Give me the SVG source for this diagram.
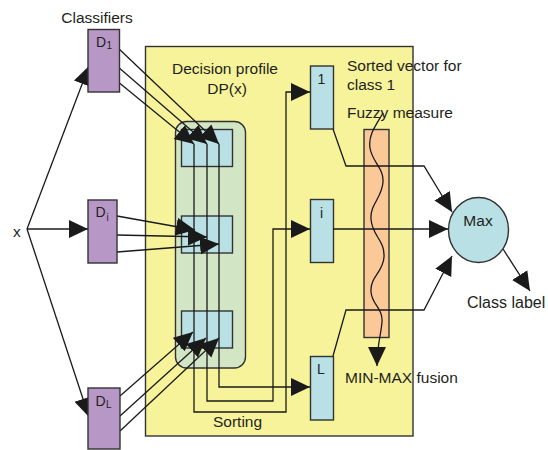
<svg xmlns="http://www.w3.org/2000/svg" width="548" height="450" viewBox="0 0 548 450">
<defs>
<marker id="ah" markerUnits="userSpaceOnUse" markerWidth="20" markerHeight="19" refX="19" refY="9" orient="auto" viewBox="0 0 20 19">
<path d="M0,0 L19,9 L0,18 z" fill="#1a1a1a"/>
</marker>
<style>
text{font-family:"Liberation Sans",Arial,sans-serif;fill:#231f20;font-size:15.5px}
.b{stroke:#333;stroke-width:1.4}
.ln{fill:none;stroke:#1a1a1a;stroke-width:1.3}
.ar{marker-end:url(#ah)}
.sub{font-size:10px}
.mid{text-anchor:middle}
</style>
</defs>
<rect width="548" height="450" fill="#fff"/>
<g id="dp-frame">
<rect class="b" x="145.5" y="46.5" width="267.5" height="389.5" fill="#f7f39b"/>
<text x="225" y="74" class="mid">Decision profile</text>
<text x="227" y="94" class="mid">DP(x)</text>
<text x="213" y="427">Sorting</text>
</g>
<g id="dp-matrix">
<rect class="b" x="175.5" y="121.5" width="70" height="246.5" rx="11" fill="#d2e6c5"/>
<rect class="b" x="181.5" y="129.5" width="51" height="37" fill="#b9e0e4"/>
<rect class="b" x="181.5" y="216" width="51" height="37" fill="#b9e0e4"/>
<rect class="b" x="181.5" y="311" width="51" height="37" fill="#b9e0e4"/>
</g>
<g id="sorted-1"><rect class="b" x="310.5" y="66" width="23" height="63" fill="#b9e0e4"/><text x="321.5" y="84" class="mid" style="font-size:14px">1</text></g>
<g id="sorted-i"><rect class="b" x="310.5" y="199.5" width="23" height="63" fill="#b9e0e4"/><text x="321.5" y="218" class="mid" style="font-size:14px">i</text></g>
<g id="sorted-L"><rect class="b" x="310.5" y="356.5" width="23" height="63.5" fill="#b9e0e4"/><text x="321" y="374" class="mid" style="font-size:14px">L</text></g>
<g id="fuzzy">
<rect class="b" x="364" y="129.5" width="25" height="208" fill="#fbc898"/>
<text x="347" y="71">Sorted vector for</text>
<text x="347" y="90">class 1</text>
<text x="347" y="118">Fuzzy measure</text>
<text x="345" y="383">MIN-MAX fusion</text>
</g>
<g id="connectors">
<path class="ln ar" d="M27,229 L89,66"/>
<path class="ln ar" d="M27,229 L88,229"/>
<path class="ln ar" d="M27,229 L89,417"/>
<path class="ln ar" d="M117,47 L219,144"/>
<path class="ln ar" d="M117,66 L207,144"/>
<path class="ln ar" d="M117,81 L194,144"/>
<path class="ln ar" d="M117,216 L195,230"/>
<path class="ln ar" d="M117,235 L207,237"/>
<path class="ln ar" d="M117,252 L219,244"/>
<path class="ln ar" d="M120,396 L193,332"/>
<path class="ln ar" d="M120,416 L206,338"/>
<path class="ln ar" d="M120,431 L219,338"/>
<path class="ln ar" d="M194,144 V412 H286 V92 H310"/>
<path class="ln ar" d="M207,144 V401 H273 V229 H310"/>
<path class="ln ar" d="M219,144 V387 H310"/>
<path class="ln ar" d="M333,129 L346,166 H424 L452,212"/>
<path class="ln ar" d="M333,229 H448"/>
<path class="ln ar" d="M333,356 L346,310 H424 L452,256"/>
<path class="ln ar" d="M503,249 L530,291"/>
<path class="ln ar" d="M383,113 C376,125 368,135 370,148 C372,162 384,168 383,182 C382,198 370,204 371,219 C372,236 385,240 384,257 C383,273 370,276 371,292 C372,305 383,308 382,322 C381,335 377,345 377,366"/>
</g>
<g id="x-input"><text x="13" y="237">x</text></g>
<g id="D1"><rect class="b" x="88" y="29.5" width="31.5" height="62.5" fill="#b797c6"/><text x="96" y="47" style="font-size:14px">D</text><text x="106.5" y="49" class="sub">1</text></g>
<g id="Di"><rect class="b" x="88" y="200" width="29" height="63" fill="#b797c6"/><text x="95.5" y="217" style="font-size:14px">D</text><text x="106.5" y="221" class="sub">i</text></g>
<g id="DL"><rect class="b" x="88" y="388" width="32" height="61" fill="#b797c6"/><text x="95.5" y="406" style="font-size:14px">D</text><text x="106" y="408" class="sub">L</text></g>
<g id="classifiers-label"><text x="97" y="23" class="mid">Classifiers</text></g>
<g id="max"><ellipse class="b" cx="478.5" cy="230" rx="30" ry="32.5" fill="#b9e0e4"/><text x="478" y="226" class="mid">Max</text></g>
<g id="class-label"><text x="467" y="308" style="font-size:16px">Class label</text></g>
</svg>
